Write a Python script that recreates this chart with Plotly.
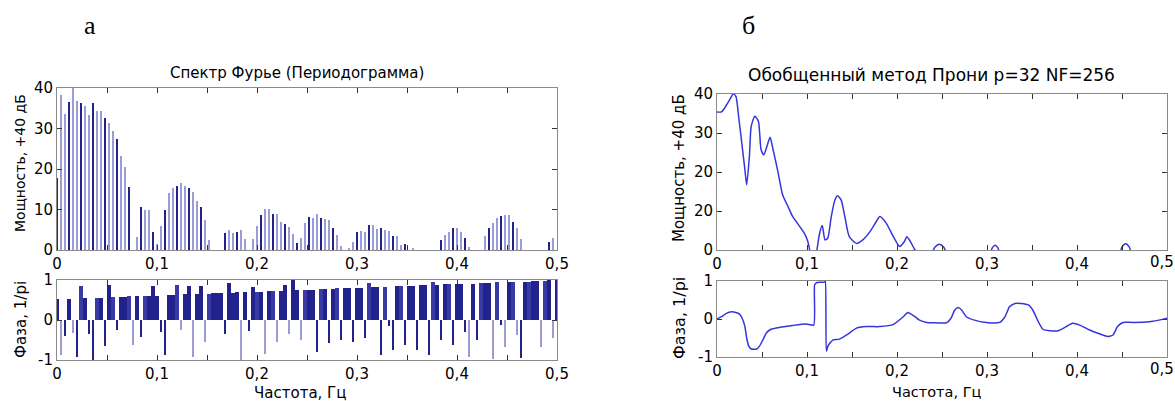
import plotly.graph_objects as go

# ---------------- data ----------------
freq = [round(k * 0.004, 3) for k in range(126)]

power_db = [
    17.7, 38.3, 33.7, 36.6, 41.0, 36.9, 36.4, 35.5, 33.3, 36.2,
    34.4, 34.4, 32.7, 31.4, 29.5, 27.3, 23.3, 20.4, 15.6, 0.0,
    3.3, 10.5, 10.0, 10.0, 4.5, 1.5, 5.9, 9.9, 14.0, 15.2,
    15.8, 16.5, 15.8, 15.4, 14.2, 12.2, 10.5, 7.4, 2.5, 0.0,
    0.0, 0.0, 4.3, 4.9, 4.1, 4.4, 4.9, 2.8, 0.0, 2.8,
    5.9, 8.6, 10.1, 10.1, 9.0, 9.0, 7.0, 6.4, 5.6, 3.9,
    1.8, 3.0, 6.7, 8.1, 8.0, 8.9, 7.8, 7.6, 7.4, 5.4,
    3.7, 1.1, 0.0, 0.3, 2.1, 4.4, 4.7, 4.5, 6.2, 6.2,
    5.1, 5.4, 4.9, 4.8, 3.5, 3.5, 1.2, 1.4, 0.0, 0.4,
    0.0, 0.0, 0.0, 0.0, 0.0, 0.0, 2.5, 3.7, 4.5, 5.5,
    5.5, 4.4, 2.9, 0.8, 0.0, 0.0, 0.0, 3.5, 5.4, 6.6,
    7.8, 8.5, 8.7, 8.7, 7.0, 5.4, 2.7, 0.0, 0.0, 0.0,
    0.0, 0.0, 0.0, 2.1, 2.9, 0.0,
]

phase_pi = [
    0.52, -0.88, -0.40, 0.53, -0.32, -0.92, 0.85, 0.55, -0.35, -1.00,
    0.56, 0.56, -0.65, 0.88, 0.57, -0.25, 0.58, 0.58, 0.59, -0.62,
    0.60, -0.42, 0.60, 0.61, 0.85, 0.61, -0.29, -0.88, 0.63, 0.63,
    0.87, -0.25, 0.64, 0.85, -0.92, 0.65, 0.86, -0.54, 0.66, 0.67,
    0.67, 0.68, -0.35, 0.93, 0.68, 0.69, -1.00, 0.70, -0.27, 0.82,
    0.71, 0.71, -0.85, 0.72, 0.73, -0.54, 0.73, 0.87, -0.35, 1.00,
    0.75, -0.50, 0.76, 0.76, 0.76, -0.80, 0.77, 0.77, -0.58, 0.78,
    0.79, -0.50, 0.79, 0.80, -0.54, 0.80, 0.81, -0.45, 0.93, 0.82,
    0.82, -0.88, 0.83, -0.15, -0.75, 0.84, 0.84, -0.62, 0.85, 0.86,
    -0.75, 0.87, 0.87, -0.88, 0.96, 0.88, -0.50, 0.89, 0.89, -0.62,
    0.90, 0.90, -0.30, -0.92, 0.91, -0.50, 0.92, 0.92, 0.93, -0.98,
    0.94, -0.12, -0.68, 0.95, 0.95, -0.38, -0.96, 0.96, 0.96, 0.97,
    0.98, -0.68, 0.98, 0.99, -0.46, 0.99,
]

prony_f = [
    0.0, 0.005, 0.0085, 0.014, 0.018, 0.021, 0.024, 0.028, 0.031, 0.033,
    0.036, 0.038, 0.042, 0.046, 0.049, 0.052, 0.056, 0.059, 0.062, 0.068,
    0.073, 0.079, 0.084, 0.092, 0.097, 0.101, 0.103, 0.107, 0.111, 0.114,
    0.117, 0.120, 0.123, 0.127, 0.131, 0.134, 0.138, 0.142, 0.147, 0.155,
    0.162, 0.170, 0.177, 0.181, 0.188, 0.196, 0.203, 0.208, 0.211, 0.215,
    0.220, 0.226, 0.238, 0.242, 0.247, 0.252, 0.256, 0.280, 0.303, 0.306,
    0.309, 0.312, 0.315, 0.350, 0.400, 0.447, 0.450, 0.454, 0.458, 0.461,
    0.480, 0.500,
]
prony_db = [
    35.4, 35.4, 36.4, 38.5, 40.0, 39.4, 34.3, 26.5, 20.6, 16.7,
    24.0, 31.7, 34.3, 33.0, 25.7, 24.4, 27.0, 28.9, 26.1, 19.7,
    14.1, 11.1, 8.6, 6.0, 4.3, 2.1, 0.0, -4.0, 0.0, 4.3,
    6.3, 2.6, 3.0, 8.6, 12.8, 13.9, 12.8, 8.6, 3.4, 1.7,
    2.6, 4.7, 7.3, 8.6, 6.9, 3.4, 0.9, 2.1, 3.4, 2.1,
    0.0, -2.0, -1.0, 0.7, 1.5, 0.7, -1.0, -3.0, -1.0, 0.6,
    1.2, 0.6, -1.0, -4.0, -4.0, -1.0, 0.8, 1.6, 0.8, -1.0,
    -3.0, -2.0,
]

prony_phase_f = [
    0.0, 0.005, 0.0104, 0.016, 0.021, 0.025, 0.028, 0.031, 0.033, 0.035,
    0.038, 0.044, 0.047, 0.051, 0.055, 0.060, 0.070, 0.084, 0.099, 0.1075,
    0.1085, 0.111, 0.114, 0.1195, 0.1205, 0.1215, 0.1235, 0.126, 0.129, 0.136,
    0.144, 0.155, 0.166, 0.181, 0.196, 0.207, 0.212, 0.220, 0.225, 0.233,
    0.240, 0.255, 0.260, 0.264, 0.268, 0.272, 0.277, 0.286, 0.299, 0.314,
    0.320, 0.325, 0.331, 0.338, 0.346, 0.351, 0.357, 0.362, 0.370, 0.379,
    0.388, 0.395, 0.403, 0.414, 0.425, 0.434, 0.440, 0.445, 0.451, 0.462,
    0.480, 0.495, 0.500,
]
prony_phase = [
    0.0, 0.06, 0.15, 0.19, 0.17, 0.13, 0.02, -0.20, -0.50, -0.70,
    -0.79, -0.79, -0.72, -0.55, -0.36, -0.27, -0.22, -0.17, -0.13, -0.16,
    0.90, 0.96, 0.97, 0.97, 1.00, -0.85, -0.70, -0.62, -0.55, -0.53,
    -0.42, -0.24, -0.20, -0.20, -0.14, 0.06, 0.17, 0.06, -0.03, -0.09,
    -0.10, -0.10, 0.02, 0.23, 0.30, 0.23, 0.06, -0.03, -0.09, -0.09,
    0.06, 0.32, 0.41, 0.41, 0.37, 0.23, -0.07, -0.27, -0.31, -0.31,
    -0.20, -0.11, -0.16, -0.29, -0.39, -0.46, -0.42, -0.20, -0.09, -0.09,
    -0.07, -0.01, 0.02,
]

x_tickvals = [0, 0.05, 0.1, 0.15, 0.2, 0.25, 0.3, 0.35, 0.4, 0.45, 0.5]
x_ticktext = ["0", "", "0,1", "", "0,2", "", "0,3", "", "0,4", "", "0,5"]
pow_tickvals = [0, 10, 20, 30, 40]
pow_ticktext_a = ["0", "10", "20", "30", "40"]
pow_ticktext_b = ["0", "20", "20", "30", "40"]
ph_tickvals = [-1, 0, 1]
ph_ticktext = ["-1", "0", "1"]

# ---------------- style ----------------
W, H = 1175, 401
DARK = "#22228c"
MID = "#3a3aa6"
LIGHT = "#9c9cd4"
LINE = "#3535dc"
FONT = "DejaVu Sans"

bar_colors = [DARK if k % 3 == 0 else LIGHT for k in range(len(freq))]
ph_colors = [(LIGHT if k % 3 == 1 else DARK) if v < 0 else (MID if k % 4 == 2 else DARK)
             for k, v in enumerate(phase_pi)]
ph_widths = [0.0038 if v > 0 else 0.0014 for v in phase_pi]

# the right panel's last x label sits at the page edge: drawn as an annotation
x_ticktext_b = x_ticktext[:-1] + [""]


def px_x(a, b):
    return [a / W, b / W]


def px_y(top, bottom):
    return [1 - bottom / H, 1 - top / H]


axis_style = dict(
    showline=True, linecolor="#8a8a8a", linewidth=1, mirror="ticks",
    ticks="inside", ticklen=5, tickcolor="#333333", tickwidth=1,
    showgrid=False, zeroline=False, automargin=False,
    ticklabeloverflow="allow",
    tickfont=dict(family=FONT, size=15, color="black"),
)

fig = go.Figure()

fig.add_trace(go.Bar(x=freq, y=power_db, width=0.0015,
                     marker=dict(color=bar_colors, line=dict(width=0)),
                     xaxis="x", yaxis="y", showlegend=False))
fig.add_trace(go.Bar(x=freq, y=phase_pi, width=ph_widths,
                     marker=dict(color=ph_colors, line=dict(width=0)),
                     xaxis="x2", yaxis="y2", showlegend=False))
fig.add_trace(go.Scatter(x=prony_f, y=prony_db, mode="lines",
                         line=dict(color=LINE, width=1.5, shape="spline", smoothing=0.6),
                         xaxis="x3", yaxis="y3", showlegend=False))
fig.add_trace(go.Scatter(x=prony_phase_f, y=prony_phase, mode="lines",
                         line=dict(color=LINE, width=1.5, shape="spline", smoothing=0.5),
                         xaxis="x4", yaxis="y4", showlegend=False))

xa = dict(axis_style, range=[0, 0.5], tickvals=x_tickvals, ticktext=x_ticktext)
xb = dict(axis_style, range=[0, 0.5], tickvals=x_tickvals, ticktext=x_ticktext_b)

fig.update_layout(
    width=W, height=H,
    margin=dict(l=0, r=0, t=0, b=0),
    paper_bgcolor="white", plot_bgcolor="white",
    bargap=0,
    xaxis=dict(xa, domain=px_x(57, 557), anchor="y"),
    yaxis=dict(axis_style, domain=px_y(88, 250), anchor="x", range=[0, 40],
               tickvals=pow_tickvals, ticktext=pow_ticktext_a),
    xaxis2=dict(xa, domain=px_x(57, 557), anchor="y2"),
    yaxis2=dict(axis_style, domain=px_y(280, 360), anchor="x2", range=[-1, 1],
                tickvals=ph_tickvals, ticktext=ph_ticktext),
    xaxis3=dict(xb, domain=px_x(717, 1167), anchor="y3"),
    yaxis3=dict(axis_style, domain=px_y(94, 250), anchor="x3", range=[0, 40],
                tickvals=pow_tickvals, ticktext=pow_ticktext_b),
    xaxis4=dict(xb, domain=px_x(717, 1167), anchor="y4"),
    yaxis4=dict(axis_style, domain=px_y(281, 357), anchor="x4", range=[-1, 1],
                tickvals=ph_tickvals, ticktext=ph_ticktext),
)


def ann(text, x, y, size, angle=0, family=FONT, xanchor="center"):
    fig.add_annotation(text=text, x=x / W, y=1 - y / H, xref="paper", yref="paper",
                       showarrow=False, textangle=angle, xanchor=xanchor, yanchor="middle",
                       font=dict(family=family, size=size, color="black"))


ann("а", 90, 25, 26, family="Liberation Serif")
ann("б", 748, 25, 26, family="Liberation Serif")
ann("Спектр Фурье (Периодограмма)", 297, 73, 15)
ann("Обобщенный метод Прони p=32 NF=256", 931, 75, 17)
ann("Мощность, +40 дБ", 20, 163, 14, angle=-90)
ann("Фаза, 1/pi", 21, 320, 15, angle=-90)
ann("Частота, Гц", 300, 393, 15)
ann("Мощность, +40 дБ", 679, 168, 15, angle=-90)
ann("Фаза, 1/pi", 679, 318, 16, angle=-90)
ann("Частота, Гц", 937, 392, 14.5)
ann(x_ticktext[-1], 1162, 262, 15)
ann(x_ticktext[-1], 1162, 369, 15)

fig.write_html(
    "out.html",
    config={"displayModeBar": False},
    post_script="document.body.style.margin='0';document.body.style.overflow='hidden';",
)
